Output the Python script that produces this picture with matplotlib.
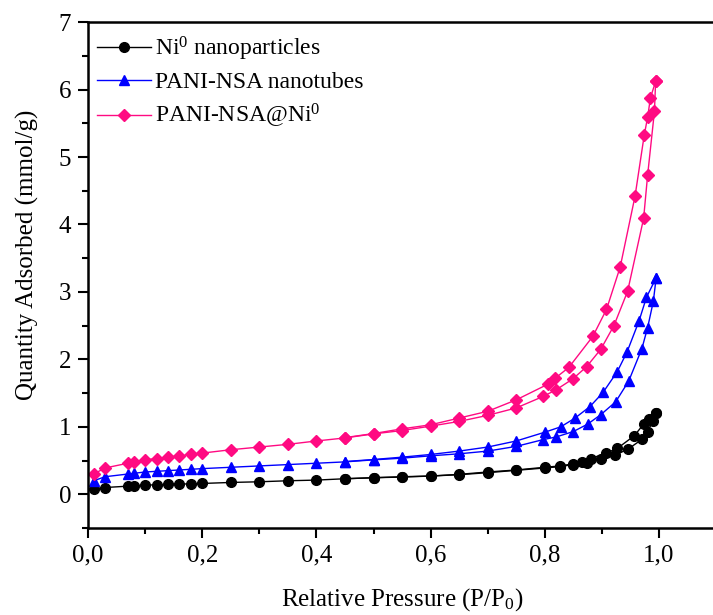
import matplotlib
matplotlib.use("Agg")
import matplotlib.pyplot as plt
from matplotlib.ticker import MultipleLocator, FuncFormatter

plt.rcParams['font.family'] = ['Liberation Serif', 'DejaVu Serif']
plt.rcParams['mathtext.fontset'] = 'custom'
plt.rcParams['mathtext.rm'] = 'Liberation Serif'
plt.rcParams['mathtext.it'] = 'Liberation Serif:italic'

# Ni0 nanoparticles
ni_ads_p = [0.01, 0.03, 0.07, 0.08, 0.10, 0.12, 0.14, 0.16, 0.18, 0.20, 0.25, 0.30, 0.35, 0.40,
            0.45, 0.50, 0.55, 0.60, 0.65, 0.70, 0.75, 0.80, 0.827, 0.849, 0.873, 0.898, 0.923,
            0.946, 0.971, 0.980, 0.989, 0.995]
ni_ads_q = [0.077, 0.10, 0.12, 0.125, 0.135, 0.14, 0.145, 0.15, 0.155, 0.16, 0.175, 0.185, 0.20, 0.21,
            0.23, 0.245, 0.255, 0.27, 0.29, 0.32, 0.355, 0.39, 0.41, 0.44, 0.47, 0.52, 0.58,
            0.67, 0.82, 0.93, 1.08, 1.20]
ni_des_p = [0.995, 0.982, 0.973, 0.957, 0.927, 0.907, 0.881, 0.865, 0.849, 0.827, 0.80, 0.75,
            0.70, 0.65, 0.60, 0.55, 0.50, 0.45]
ni_des_q = [1.20, 1.12, 1.04, 0.87, 0.68, 0.61, 0.53, 0.48, 0.45, 0.42, 0.40, 0.36,
            0.33, 0.295, 0.27, 0.26, 0.245, 0.23]

# PANI-NSA nanotubes
pani_ads_p = [0.01, 0.03, 0.07, 0.08, 0.10, 0.12, 0.14, 0.16, 0.18, 0.20, 0.25, 0.30, 0.35, 0.40,
              0.45, 0.50, 0.55, 0.60, 0.65, 0.70, 0.75, 0.797, 0.82, 0.85, 0.875, 0.898, 0.924,
              0.947, 0.97, 0.98, 0.99, 0.995]
pani_ads_q = [0.20, 0.26, 0.30, 0.31, 0.33, 0.34, 0.35, 0.36, 0.37, 0.38, 0.40, 0.42, 0.44, 0.46,
              0.48, 0.51, 0.535, 0.57, 0.60, 0.64, 0.71, 0.81, 0.85, 0.93, 1.04, 1.18, 1.37,
              1.68, 2.16, 2.47, 2.86, 3.21]
pani_des_p = [0.995, 0.978, 0.965, 0.944, 0.927, 0.902, 0.879, 0.853, 0.828, 0.80, 0.75, 0.70,
              0.65, 0.60, 0.55, 0.50, 0.45]
pani_des_q = [3.21, 2.92, 2.57, 2.11, 1.82, 1.51, 1.30, 1.13, 1.00, 0.92, 0.79, 0.70,
              0.64, 0.59, 0.55, 0.515, 0.485]

# PANI-NSA@Ni0
comp_ads_p = [0.01, 0.03, 0.07, 0.08, 0.10, 0.12, 0.14, 0.16, 0.18, 0.20, 0.25, 0.30, 0.35, 0.40,
              0.45, 0.50, 0.55, 0.60, 0.65, 0.70, 0.75, 0.797, 0.82, 0.849, 0.873, 0.898, 0.921,
              0.945, 0.973, 0.98, 0.992, 0.994]
comp_ads_q = [0.30, 0.39, 0.46, 0.485, 0.51, 0.53, 0.55, 0.57, 0.59, 0.61, 0.66, 0.70, 0.74, 0.79,
              0.835, 0.895, 0.945, 1.01, 1.08, 1.17, 1.28, 1.45, 1.55, 1.71, 1.89, 2.15, 2.50,
              3.01, 4.09, 4.73, 5.68, 6.12]
comp_des_p = [0.994, 0.985, 0.98, 0.974, 0.958, 0.932, 0.908, 0.884, 0.842, 0.818, 0.805, 0.75,
              0.70, 0.65, 0.60, 0.55, 0.50, 0.45]
comp_des_q = [6.12, 5.88, 5.59, 5.32, 4.42, 3.37, 2.74, 2.34, 1.88, 1.72, 1.63, 1.40,
              1.23, 1.13, 1.03, 0.97, 0.90, 0.84]

fig = plt.figure(figsize=(7.13, 6.15), dpi=100)
ax = fig.add_axes([0.1234, 0.1415, 0.881, 0.8225])

series = [
    (ni_ads_p, ni_ads_q, ni_des_p, ni_des_q, 'black', 'o', 7, 'Ni$^{\\mathrm{0}}$ nanoparticles'),
    (pani_ads_p, pani_ads_q, pani_des_p, pani_des_q, '#0000FF', '^', 7.5, 'PANI-NSA nanotubes'),
    (comp_ads_p, comp_ads_q, comp_des_p, comp_des_q, '#FF0A82', 'D', 6.2, 'PANI-NSA@Ni$^{\\mathrm{0}}$'),
]
for ap, aq, dp, dq, c, m, ms, lab in series:
    ax.plot(ap, aq, color=c, marker=m, ms=ms, lw=1.0, label=lab)
    ax.plot(dp, dq, color=c, marker=m, ms=ms, lw=1.0)

ax.set_xlim(0, 1.1)
ax.set_ylim(-0.5, 7)
ax.xaxis.set_major_locator(MultipleLocator(0.2))
ax.xaxis.set_minor_locator(MultipleLocator(0.1))
ax.yaxis.set_major_locator(MultipleLocator(1))
ax.yaxis.set_minor_locator(MultipleLocator(0.5))
ax.xaxis.set_major_formatter(FuncFormatter(lambda v, p: f'{v:.1f}'.replace('.', ',') if v <= 1.0001 else ''))
ax.yaxis.set_major_formatter(FuncFormatter(lambda v, p: f'{v:.0f}'))

ax.tick_params(which='major', direction='out', length=7, width=1.5, labelsize=18, pad=5)
ax.tick_params(which='minor', direction='out', length=4, width=1.5)
for s in ['left', 'bottom', 'top']:
    ax.spines[s].set_linewidth(1.8)
ax.spines['right'].set_visible(False)

ax.set_xlabel('Relative Pressure (P/P$_{\\mathrm{0}}$)', fontsize=18)
ax.set_ylabel('Quantity Adsorbed (mmol/g)', fontsize=18)
ax.xaxis.set_label_coords(0.5, -0.115)
ax.yaxis.set_label_coords(-0.078, 0.54)

ax.legend(loc='upper left', bbox_to_anchor=(0, 0.994), frameon=False, fontsize=17,
          handlelength=2.25, handletextpad=0.2, borderaxespad=0.0, labelspacing=0.38)

fig.savefig('out.png', dpi=100)
